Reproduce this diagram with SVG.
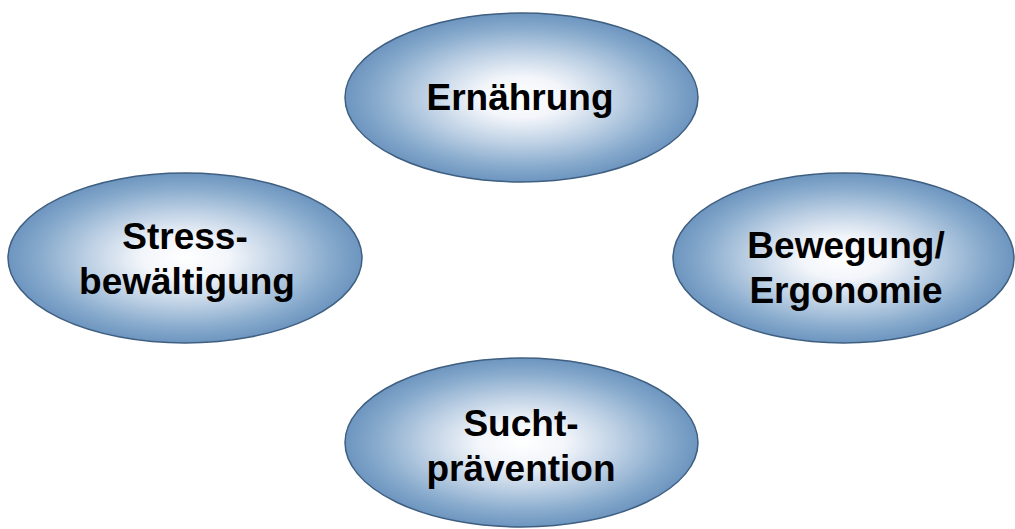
<svg xmlns="http://www.w3.org/2000/svg" width="1015" height="529" viewBox="0 0 1015 529">
<defs>
<radialGradient id="g" cx="50%" cy="50%" r="50%">
<stop offset="0" stop-color="#ffffff"/>
<stop offset="0.25" stop-color="#f2f5fa"/>
<stop offset="0.55" stop-color="#bdd0e4"/>
<stop offset="0.82" stop-color="#88abcd"/>
<stop offset="1" stop-color="#6d95bf"/>
</radialGradient>
<style>
.n{fill:url(#g);stroke:#3f5f80;stroke-width:1.5}
.t{font-family:"Liberation Sans",Arial,sans-serif;font-weight:bold;font-size:37px;fill:#000;text-anchor:middle}
</style>
</defs>
<rect width="1015" height="529" fill="#fff"/>
<g id="connectors"/>
<g id="node-ernaehrung">
<ellipse class="n" cx="521.5" cy="97.5" rx="176.5" ry="84.5"/>
<text class="t" x="520" y="110">Ernährung</text>
</g>
<g id="node-stress">
<ellipse class="n" cx="185" cy="258" rx="177" ry="85"/>
<text class="t" x="185" y="249">Stress-</text>
<text class="t" x="187" y="294">bewältigung</text>
</g>
<g id="node-bewegung">
<ellipse class="n" cx="843.5" cy="258" rx="170.5" ry="85"/>
<text class="t" x="846" y="258">Bewegung/</text>
<text class="t" x="846" y="303">Ergonomie</text>
</g>
<g id="node-sucht">
<ellipse class="n" cx="521.5" cy="442.5" rx="176.5" ry="84.5"/>
<text class="t" x="521" y="436">Sucht-</text>
<text class="t" x="521" y="481">prävention</text>
</g>
</svg>
